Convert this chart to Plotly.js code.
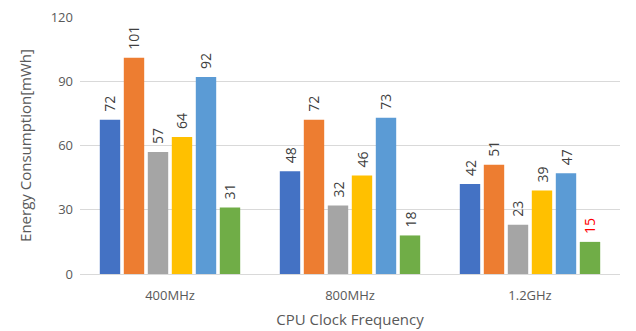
<!DOCTYPE html>
<html>
<head>
<meta charset="utf-8">
<script src="https://cdn.plot.ly/plotly-3.0.1.min.js"></script>
<style>html,body{margin:0;padding:0;background:#fff;}#chart{width:636px;height:331px;}</style>
</head>
<body>
<div id="chart"></div>
<script>
const categories = ["400MHz", "800MHz", "1.2GHz"];
const seriesA = [72, 48, 42];
const seriesB = [101, 72, 51];
const seriesC = [57, 32, 23];
const seriesD = [64, 46, 39];
const seriesE = [92, 73, 47];
const seriesF = [31, 18, 15];
const seriesList = [seriesA, seriesB, seriesC, seriesD, seriesE, seriesF];
const colors = ["#4472C4", "#ED7D31", "#A5A5A5", "#FFC000", "#5B9BD5", "#70AD47"];
const labelColors = [
  ["#404040","#404040","#404040"],
  ["#404040","#404040","#404040"],
  ["#404040","#404040","#404040"],
  ["#404040","#404040","#404040"],
  ["#404040","#404040","#404040"],
  ["#404040","#404040","#FF0000"]
];
const FONT = "'Open Sans', Lato, sans-serif";
const traces = seriesList.map((vals, i) => ({
  type: "bar",
  x: categories,
  y: vals,
  marker: {color: colors[i]},
  hoverinfo: "none"
}));
// labels via annotations, offset within group (slot width = 24px)
const annotations = [];
seriesList.forEach((vals, i) => {
  vals.forEach((v, j) => {
    annotations.push({
      x: categories[j], y: v, xref: "x", yref: "y",
      text: String(v), showarrow: false, textangle: -90,
      xanchor: "center", yanchor: "bottom",
      xshift: (i - 2.5) * 24, yshift: 6,
      font: {family: FONT, size: 14, color: labelColors[i][j]}
    });
  });
});
const layout = {
  width: 636, height: 331,
  margin: {l: 80, r: 16, t: 17, b: 57},
  paper_bgcolor: "#fff", plot_bgcolor: "#fff",
  showlegend: false,
  barmode: "group",
  bargap: 0.2,
  bargroupgap: 0.15,
  font: {family: FONT, color: "#595959", size: 13},
  annotations: annotations,
  xaxis: {
    showgrid: false, zeroline: false, showline: false, ticks: "",
    ticklabelstandoff: 12,
    tickfont: {size: 13, color: "#595959"},
    title: {text: "CPU Clock Frequency", font: {size: 15, color: "#595959"}, standoff: 11}
  },
  yaxis: {
    range: [0, 120], dtick: 30, tick0: 0,
    showgrid: true, gridcolor: "#D9D9D9", gridwidth: 1,
    zeroline: true, zerolinecolor: "#D9D9D9", zerolinewidth: 1,
    showline: false, ticks: "", ticklen: 0,
    ticklabelstandoff: 6,
    tickfont: {size: 13, color: "#595959"},
    title: {text: "Energy Consumption[mWh]", font: {size: 15, color: "#595959"}, standoff: 15}
  }
};
Plotly.newPlot("chart", traces, layout, {displayModeBar: false, staticPlot: true});
</script>
</body>
</html>
